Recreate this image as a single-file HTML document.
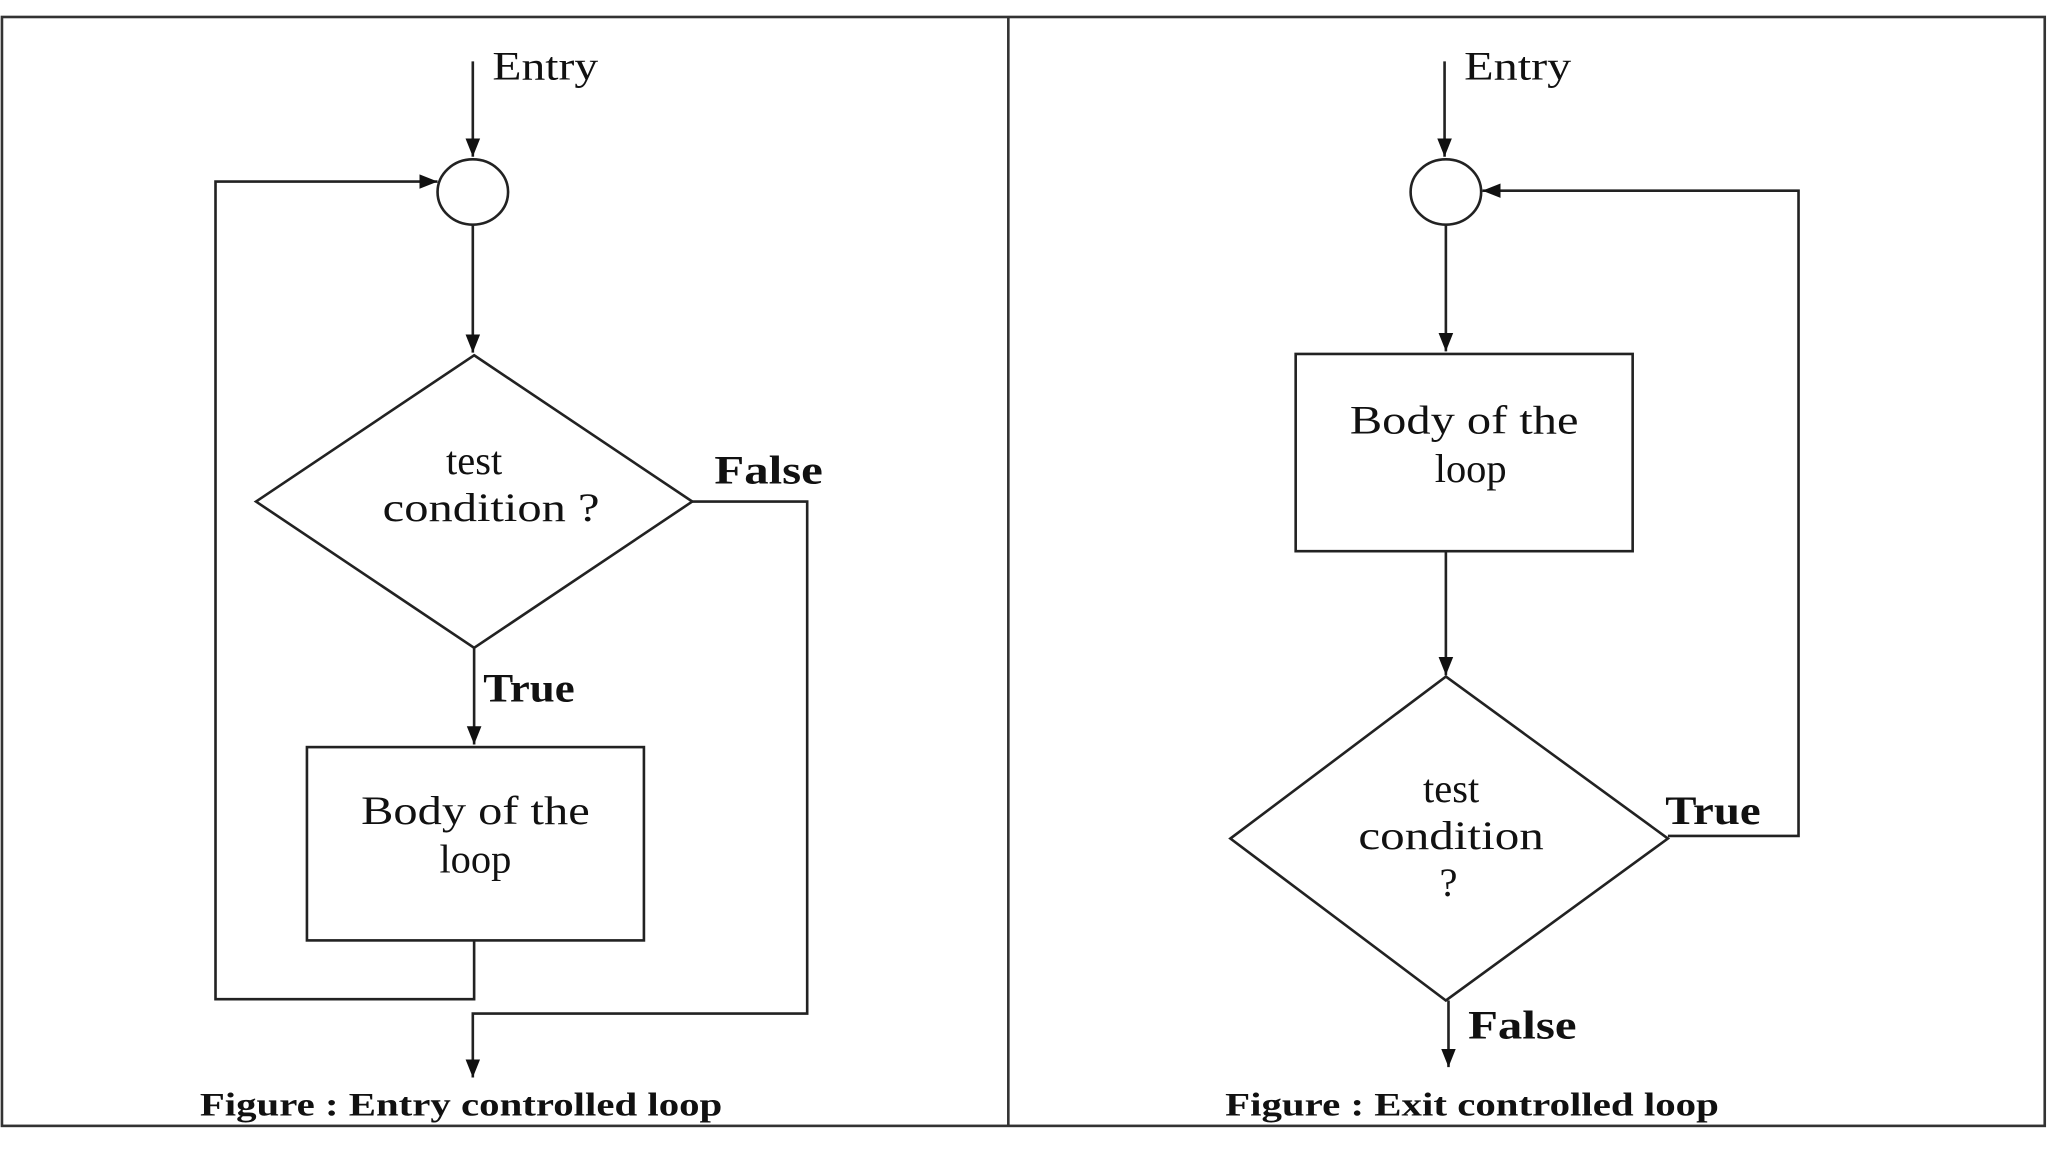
<!DOCTYPE html>
<html><head><meta charset="utf-8"><style>
html,body{margin:0;padding:0;background:#fff;width:2048px;height:1152px;overflow:hidden}
svg{display:block}
text{font-family:"Liberation Serif",serif;fill:#111}
</style></head><body>
<svg width="2048" height="1152" viewBox="0 0 1568 882" preserveAspectRatio="none">
<defs>
<marker id="b" viewBox="0 0 10 10" refX="10" refY="5" markerWidth="14" markerHeight="14" markerUnits="userSpaceOnUse" orient="auto"><path d="M0,1L10,5L0,9z" fill="#111"/></marker></defs>
<rect x="1.5" y="13" width="1564" height="849" fill="none" stroke="#333" stroke-width="2"/>
<line x1="772" y1="13" x2="772" y2="862" stroke="#333" stroke-width="2"/>
<g fill="none" stroke="#222" stroke-width="2">
<line x1="362" y1="47" x2="362" y2="120" marker-end="url(#b)"/>
<ellipse cx="362" cy="147" rx="27" ry="25"/>
<line x1="362" y1="172" x2="362" y2="270" marker-end="url(#b)"/>
<polygon points="363,272 530,384 363,496 196,384"/>
<line x1="363" y1="496" x2="363" y2="570" marker-end="url(#b)"/>
<rect x="235" y="572" width="258" height="148"/>
<polyline points="530,384 618,384 618,776 362,776 362,825" marker-end="url(#b)"/>
<polyline points="363,720 363,765 165,765 165,139 335,139" marker-end="url(#b)"/>
<line x1="1106" y1="47" x2="1106" y2="120" marker-end="url(#b)"/>
<ellipse cx="1107" cy="147" rx="27" ry="25"/>
<line x1="1107" y1="172" x2="1107" y2="269" marker-end="url(#b)"/>
<rect x="992" y="271" width="258" height="151"/>
<line x1="1107" y1="422" x2="1107" y2="517" marker-end="url(#b)"/>
<polygon points="1107,518 1277,642 1107,766 942,642"/>
<polyline points="1277,640 1377,640 1377,146 1135,146" marker-end="url(#b)"/>
<line x1="1109" y1="766" x2="1109" y2="817" marker-end="url(#b)"/>
</g>
<g font-size="31">
<text x="377" y="61" textLength="81" lengthAdjust="spacingAndGlyphs">Entry</text>
<text x="363" y="363" text-anchor="middle">test</text>
<text x="376" y="399" text-anchor="middle" textLength="166" lengthAdjust="spacingAndGlyphs">condition ?</text>
<text x="364" y="631" text-anchor="middle" textLength="175" lengthAdjust="spacingAndGlyphs">Body of the</text>
<text x="364" y="668" text-anchor="middle">loop</text>
<text x="1121" y="61" textLength="82" lengthAdjust="spacingAndGlyphs">Entry</text>
<text x="1121" y="332" text-anchor="middle" textLength="175" lengthAdjust="spacingAndGlyphs">Body of the</text>
<text x="1126" y="369" text-anchor="middle">loop</text>
<text x="1111" y="614" text-anchor="middle">test</text>
<text x="1111" y="650" text-anchor="middle" textLength="142" lengthAdjust="spacingAndGlyphs">condition</text>
<text x="1109" y="686" text-anchor="middle">?</text>
</g>
<g font-size="31" font-weight="bold">
<text x="547" y="370" textLength="83" lengthAdjust="spacingAndGlyphs">False</text>
<text x="370" y="537" textLength="70" lengthAdjust="spacingAndGlyphs">True</text>
<text x="1275" y="631" textLength="73" lengthAdjust="spacingAndGlyphs">True</text>
<text x="1124" y="795" textLength="83" lengthAdjust="spacingAndGlyphs">False</text>
</g>
<g font-size="25" font-weight="bold">
<text x="153" y="854" textLength="400" lengthAdjust="spacingAndGlyphs">Figure : Entry controlled loop</text>
<text x="938" y="854" textLength="378" lengthAdjust="spacingAndGlyphs">Figure : Exit controlled loop</text>
</g>
</svg>
</body></html>
